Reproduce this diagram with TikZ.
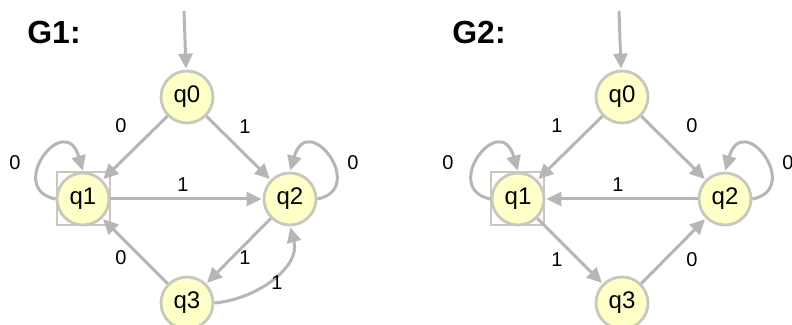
\documentclass[tikz,border=0pt]{standalone}
\usepackage{fontspec}
\setmainfont{Liberation Sans}
\usetikzlibrary{arrows.meta}
\definecolor{statefill}{RGB}{255,255,200}
\definecolor{stateline}{RGB}{200,200,188}
\definecolor{edgegray}{RGB}{182,182,182}
\tikzset{
  state/.style={circle, draw=stateline, fill=statefill, line width=2.8pt,
    minimum size=52pt, inner sep=0pt, font=\fontsize{24}{26}\selectfont},
  finalbox/.style={draw=stateline, line width=2pt, minimum size=53pt, inner sep=0pt},
  edge/.style={draw=edgegray, line width=3pt,
    -{Triangle[length=15pt,width=14pt]}, shorten >=1pt},
  elabel/.style={font=\fontsize{20}{22}\selectfont, inner sep=0pt},
  title/.style={font=\fontsize{32}{34}\selectfont\bfseries, inner sep=0pt}
}
\begin{document}
\begin{tikzpicture}[x=1pt,y=1pt]
\useasboundingbox[fill=white] (0,0) rectangle (792,324);

% ---------- G1 ----------
\node[title] (t1) at (54,292) {G1:};
\node[finalbox] (f1) at (83,125) {};
\node[state] (a0) at (187,227) {q0};
\node[state] (a1) at (83,125) {q1};
\node[state] (a2) at (290,125) {q2};
\node[state] (a3) at (187,21) {q3};
\coordinate (s1) at (184,313);

\draw[edge] (s1) -- (a0);
\draw[edge] (a0) -- (a1);
\draw[edge] (a0) -- (a2);
\draw[edge] (a1) -- (a2);
\draw[edge] (a2) -- (a3);
\draw[edge] (a3) -- (a1);
\draw[edge] (a3.east) to[out=5,in=-75] (a2.south);
\draw[edge] (a1.west) .. controls (5,135) and (65,215) .. (a1.north);
\draw[edge] (a2.east) .. controls (368,135) and (308,215) .. (a2.north);

\node[elabel] (l1) at (121,198) {0};
\node[elabel] (l2) at (245,197) {1};
\node[elabel] (l3) at (183,139) {1};
\node[elabel] (l4) at (245,66) {1};
\node[elabel] (l5) at (121,66) {0};
\node[elabel] (l6) at (277,41) {1};
\node[elabel] (l7) at (15,161) {0};
\node[elabel] (l8) at (353,161) {0};

% ---------- G2 ----------
\node[title] (t2) at (479,292) {G2:};
\node[finalbox] (f2) at (517,125) {};
\node[state] (b0) at (622,227) {q0};
\node[state] (b1) at (518,125) {q1};
\node[state] (b2) at (725,125) {q2};
\node[state] (b3) at (622,21) {q3};
\coordinate (s2) at (619,313);

\draw[edge] (s2) -- (b0);
\draw[edge] (b0) -- (b1);
\draw[edge] (b0) -- (b2);
\draw[edge] (b2) -- (b1);
\draw[edge] (b1) -- (b3);
\draw[edge] (b3) -- (b2);
\draw[edge] (b1.west) .. controls (440,135) and (500,215) .. (b1.north);
\draw[edge] (b2.east) .. controls (803,135) and (743,215) .. (b2.north);

\node[elabel] (m1) at (557,198) {1};
\node[elabel] (m2) at (692,198) {0};
\node[elabel] (m3) at (618,139) {1};
\node[elabel] (m4) at (557,64) {1};
\node[elabel] (m5) at (692,64) {0};
\node[elabel] (m6) at (448,161) {0};
\node[elabel] (m7) at (788,161) {0};
\end{tikzpicture}
\end{document}
